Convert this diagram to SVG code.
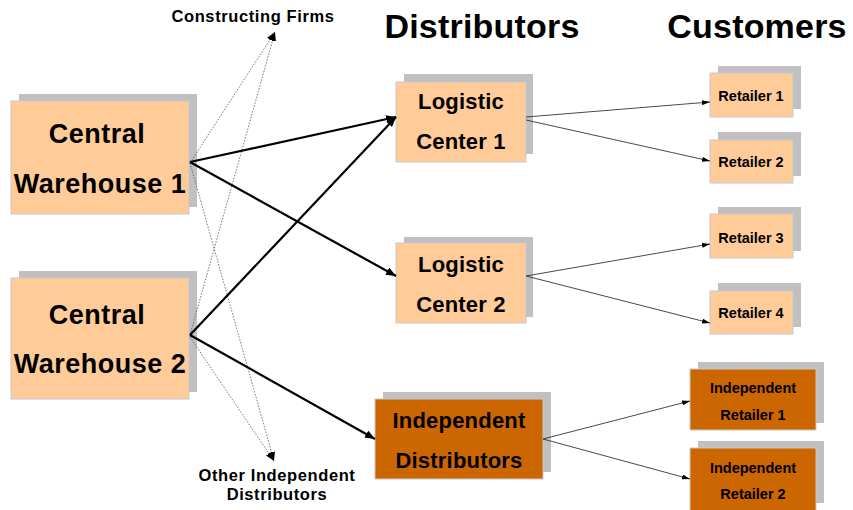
<svg xmlns="http://www.w3.org/2000/svg" width="853" height="510" viewBox="0 0 853 510">
<style>
text{font-family:"Liberation Sans",Arial,sans-serif;font-weight:bold;fill:#000;text-anchor:middle}
.sh{fill:#C0C0C0}
.lt{fill:#FFCC99;stroke:#C8C8C8;stroke-width:1}
.dk{fill:#CC6600;stroke:#C8C8C8;stroke-width:1}
.big{font-size:27px;letter-spacing:0.5px}
.mid{font-size:22px;letter-spacing:0.2px}
.sm{font-size:14.5px}
.ttl{font-size:34px;letter-spacing:0.2px}
.lbl{font-size:16.5px;letter-spacing:0.6px}
.thick{stroke:#000;stroke-width:2.2;fill:none}
.thin{stroke:#333;stroke-width:0.9;fill:none}
.dot{stroke:#555;stroke-width:0.8;stroke-dasharray:1.5 1.5;fill:none}
</style>
<defs>
<marker id="ah" markerWidth="10" markerHeight="8" refX="10" refY="4" orient="auto" markerUnits="userSpaceOnUse"><path d="M0,0 L10,4 L0,8 Z" fill="#000"/></marker>
<marker id="ahs" markerWidth="8" markerHeight="5" refX="8" refY="2.5" orient="auto" markerUnits="userSpaceOnUse"><path d="M0,0 L8,2.5 L0,5 Z" fill="#000"/></marker>
<marker id="ahd" markerWidth="9" markerHeight="7" refX="9" refY="3.5" orient="auto" markerUnits="userSpaceOnUse"><path d="M0,0 L9,3.5 L0,7 Z" fill="#000"/></marker>
</defs>
<rect width="853" height="510" fill="#fff"/>

<g id="titles">
<text class="ttl" x="482" y="38">Distributors</text>
<text class="ttl" x="757" y="38">Customers</text>
<text class="lbl" x="253" y="22">Constructing Firms</text>
<text class="lbl" x="277" y="481">Other Independent</text>
<text class="lbl" x="277" y="500">Distributors</text>
</g>

<g id="cw1">
<rect class="sh" x="19" y="94" width="178" height="113"/>
<rect class="lt" x="11" y="101" width="178" height="113"/>
<text class="big" x="97" y="143">Central</text>
<text class="big" x="100" y="193">Warehouse 1</text>
</g>
<g id="cw2">
<rect class="sh" x="19" y="271" width="178" height="121"/>
<rect class="lt" x="11" y="278" width="178" height="121"/>
<text class="big" x="97" y="324">Central</text>
<text class="big" x="100" y="373">Warehouse 2</text>
</g>

<g id="lc1">
<rect class="sh" x="404" y="74" width="129" height="80"/>
<rect class="lt" x="396" y="82" width="130" height="80"/>
<text class="mid" x="461" y="109">Logistic</text>
<text class="mid" x="461" y="149">Center 1</text>
</g>
<g id="lc2">
<rect class="sh" x="404" y="237" width="129" height="80"/>
<rect class="lt" x="396" y="243" width="130" height="80"/>
<text class="mid" x="461" y="272">Logistic</text>
<text class="mid" x="461" y="312">Center 2</text>
</g>
<g id="id">
<rect class="sh" x="383" y="392" width="168" height="80"/>
<rect class="dk" x="375" y="399" width="168" height="80"/>
<text class="mid" x="459" y="428">Independent</text>
<text class="mid" x="459" y="468">Distributors</text>
</g>

<g id="r1">
<rect class="sh" x="718" y="66" width="83" height="43"/>
<rect class="lt" x="710" y="73" width="83" height="44"/>
<text class="sm" x="751" y="101">Retailer 1</text>
</g>
<g id="r2">
<rect class="sh" x="718" y="132" width="83" height="44"/>
<rect class="lt" x="710" y="140" width="83" height="43"/>
<text class="sm" x="751" y="167">Retailer 2</text>
</g>
<g id="r3">
<rect class="sh" x="718" y="207" width="83" height="44"/>
<rect class="lt" x="710" y="214" width="83" height="44"/>
<text class="sm" x="751" y="243">Retailer 3</text>
</g>
<g id="r4">
<rect class="sh" x="718" y="283" width="83" height="44"/>
<rect class="lt" x="710" y="291" width="83" height="43"/>
<text class="sm" x="751" y="318">Retailer 4</text>
</g>
<g id="ir1">
<rect class="sh" x="698" y="362" width="126" height="61"/>
<rect class="dk" x="690" y="369" width="126" height="61"/>
<text class="sm" x="753" y="393">Independent</text>
<text class="sm" x="753" y="420">Retailer 1</text>
</g>
<g id="ir2">
<rect class="sh" x="698" y="441" width="126" height="62"/>
<rect class="dk" x="690" y="448" width="126" height="63"/>
<text class="sm" x="753" y="473">Independent</text>
<text class="sm" x="753" y="499">Retailer 2</text>
</g>

<g id="connectors">
<line class="dot" x1="190" y1="163" x2="275" y2="32" marker-end="url(#ahd)"/>
<line class="dot" x1="190" y1="335" x2="275" y2="32" marker-end="url(#ahd)"/>
<line class="dot" x1="190" y1="163" x2="274" y2="461" marker-end="url(#ahd)"/>
<line class="dot" x1="190" y1="337" x2="274" y2="461" marker-end="url(#ahd)"/>
<line class="thick" x1="190" y1="162" x2="396" y2="117" marker-end="url(#ah)"/>
<line class="thick" x1="190" y1="162" x2="396" y2="276" marker-end="url(#ah)"/>
<line class="thick" x1="190" y1="335" x2="396" y2="117" marker-end="url(#ah)"/>
<line class="thick" x1="190" y1="335" x2="375" y2="439" marker-end="url(#ah)"/>
<line class="thin" x1="526" y1="117" x2="710" y2="102" marker-end="url(#ahs)"/>
<line class="thin" x1="526" y1="120" x2="710" y2="161" marker-end="url(#ahs)"/>
<line class="thin" x1="526" y1="276" x2="710" y2="244" marker-end="url(#ahs)"/>
<line class="thin" x1="526" y1="276" x2="710" y2="323" marker-end="url(#ahs)"/>
<line class="thin" x1="543" y1="439" x2="690" y2="401" marker-end="url(#ahs)"/>
<line class="thin" x1="543" y1="439" x2="690" y2="479" marker-end="url(#ahs)"/>
</g>
</svg>
